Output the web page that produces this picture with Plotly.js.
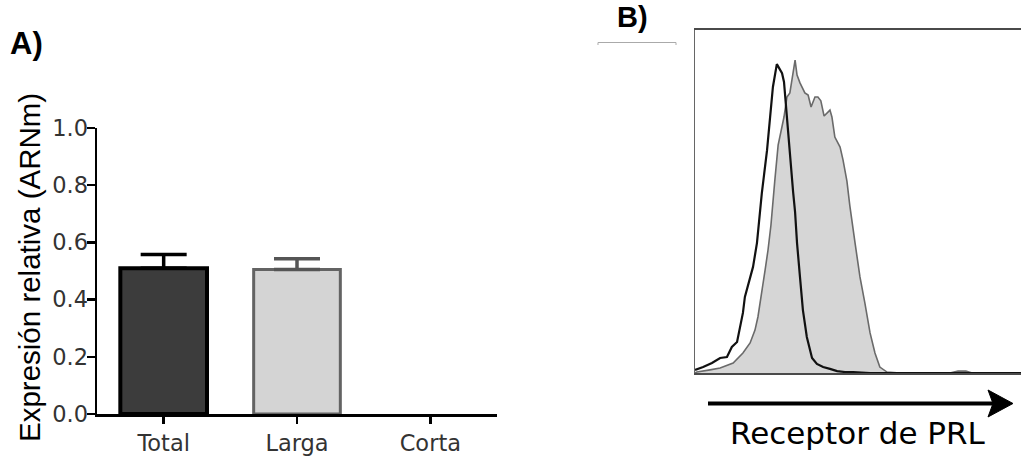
<!DOCTYPE html>
<html><head><meta charset="utf-8">
<script src="https://cdn.plot.ly/plotly-3.0.1.min.js"></script>
<style>html,body{margin:0;padding:0;background:#fff;}#chart{width:1021px;height:457px;}</style>
</head><body><div id="chart"></div>
<script>
// ---------- Panel A data ----------
const categories = ['Total', 'Larga', 'Corta'];
const expression = [0.51, 0.505, 0];
const errorUp = [0.048, 0.038, 0];
const yTickVals = [0, 0.2, 0.4, 0.6, 0.8, 1.0];
const yTickText = ['0.0', '0.2', '0.4', '0.6', '0.8', '1.0'];

// ---------- Panel B data (histogram, channel vs relative count) ----------
const ctrlChannel = [0,25,52,77,98,113,129,138,147,153,169,178,190,199,205,221,230,239,251,267,273,282,291,301,307,313,322,331,343,359,374,393,414,436,460,485,537,629,1000];
const ctrlCount = [1.0,1.9,3.2,4.8,5.1,8.3,9.9,14.7,19.2,24.3,30.4,33.9,41.5,51.1,57.5,71.2,81.8,91.4,98.7,95.8,93.0,81.2,69.3,57.8,51.4,41.5,30.7,20.1,11.5,4.8,2.9,1.9,1.3,0.6,0.3,0.3,0,0,0];
const prlChannel = [0,6,46,77,117,147,169,184,193,205,215,224,233,245,255,273,282,291,307,313,322,337,347,356,368,377,386,396,405,414,420,429,445,454,466,475,491,506,521,537,552,567,589,629,782,807,831,850,1000];
const prlCount = [0,0.3,1.0,1.6,3.2,6.4,9.6,13.7,17.9,25.6,32.9,39.3,47.3,61.7,72.8,81.8,88.2,89.5,100,95.2,92.7,89.5,88.8,85.0,88.2,88.2,87.0,82.1,83.1,84.0,81.8,75.4,72.2,68.1,61.3,53.4,41.5,30.7,22.4,12.8,6.4,1.9,0.3,0,0,0.6,0.6,0,0];

// ---------- styles ----------
const barFill = ['#3c3c3c', '#d4d4d4', '#ffffff'];
const barEdge = ['#000000', '#636363', '#000000'];
const barEdgeW = [4, 3, 0];
const errColor = ['#000000', '#555555', '#000000'];

const W = 1021, H = 457;
const px = x => x / W;
const py = y => 1 - y / H;
const P = (x, y) => px(x).toFixed(5) + ',' + py(y).toFixed(5);

const traces = categories.map((c, i) => ({
  type: 'bar', x: [c], y: [expression[i]], width: 0.65,
  xaxis: 'x', yaxis: 'y', showlegend: false, hoverinfo: 'x+y',
  marker: {color: barFill[i], line: {color: barEdge[i], width: barEdgeW[i]}},
  error_y: {type: 'data', symmetric: false, array: [errorUp[i]], arrayminus: [0],
            visible: errorUp[i] > 0, color: errColor[i], thickness: 3.5, width: 23}
}));

traces.push({
  type: 'scatter', mode: 'lines', x: prlChannel, y: prlCount,
  xaxis: 'x2', yaxis: 'y2', fill: 'tozeroy', fillcolor: '#d6d6d6',
  line: {color: '#6a6a6a', width: 1.6}, showlegend: false, name: 'PRL-R'
});
traces.push({
  type: 'scatter', mode: 'lines', x: ctrlChannel, y: ctrlCount,
  xaxis: 'x2', yaxis: 'y2',
  line: {color: '#111111', width: 2.2}, showlegend: false, name: 'Control'
});

const tickFont = {family: 'DejaVu Sans, sans-serif', size: 22.5, color: '#333'};

const layout = {
  width: W, height: H,
  margin: {l: 0, r: 0, t: 0, b: 0},
  paper_bgcolor: '#fff', plot_bgcolor: 'rgba(0,0,0,0)',
  barmode: 'overlay',
  showlegend: false,
  xaxis: {
    domain: [px(97), px(497)], range: [-0.5, 2.5], type: 'category',
    categoryorder: 'array', categoryarray: categories,
    showline: true, linecolor: '#000', linewidth: 2.5,
    ticks: 'outside', ticklen: 7, tickwidth: 2.5, tickcolor: '#000',
    tickfont: tickFont, showgrid: false, zeroline: false, anchor: 'y', fixedrange: true
  },
  yaxis: {
    domain: [py(414), py(128)], range: [0, 1],
    tickmode: 'array', tickvals: yTickVals, ticktext: yTickText,
    showline: true, linecolor: '#000', linewidth: 2.5,
    ticks: 'outside', ticklen: 8, tickwidth: 2.5, tickcolor: '#000', ticklabelstandoff: -6,
    tickfont: tickFont, showgrid: false, zeroline: false, anchor: 'x', fixedrange: true
  },
  xaxis2: {
    domain: [px(695), 1], range: [0, 1000],
    showline: true, mirror: true, linecolor: '#4a4a4a', linewidth: 2,
    showticklabels: false, ticks: '', showgrid: false, zeroline: false, anchor: 'y2'
  },
  yaxis2: {
    domain: [py(373), py(30)], range: [0, 109.6],
    showline: true, linecolor: '#666', linewidth: 1.5,
    showticklabels: false, ticks: '', showgrid: false, zeroline: false, anchor: 'x2'
  },
  annotations: [
    {text: '<b>A)</b>', x: px(26), y: py(44), xref: 'paper', yref: 'paper', showarrow: false,
     xanchor: 'center', yanchor: 'middle', font: {family: 'Liberation Sans, Arial, sans-serif', size: 31, color: '#000'}},
    {text: '<b>B)</b>', x: px(632), y: py(17), xref: 'paper', yref: 'paper', showarrow: false,
     xanchor: 'center', yanchor: 'middle', font: {family: 'Liberation Sans, Arial, sans-serif', size: 29, color: '#000'}},
    {text: 'Expresión relativa (ARNm)', x: px(29), y: py(268), xref: 'paper', yref: 'paper', showarrow: false,
     textangle: -90, xanchor: 'center', yanchor: 'middle',
     font: {family: 'Liberation Sans, Arial, sans-serif', size: 29.5, color: '#000'}},
    {text: 'Receptor de PRL', x: px(857.5), y: py(433), xref: 'paper', yref: 'paper', showarrow: false,
     xanchor: 'center', yanchor: 'middle', font: {family: 'DejaVu Sans, sans-serif', size: 31, color: '#000'}}
  ],
  shapes: [
    {type: 'line', xref: 'paper', yref: 'paper', x0: px(708), x1: px(993), y0: py(403.5), y1: py(403.5),
     line: {color: '#000', width: 4}},
    {type: 'path', xref: 'paper', yref: 'paper',
     path: 'M' + P(988, 390) + 'L' + P(1013, 403.5) + 'L' + P(988, 417) + 'L' + P(993, 403.5) + 'Z',
     fillcolor: '#000', line: {color: '#000', width: 1}},
    {type: 'path', xref: 'paper', yref: 'paper',
     path: 'M' + P(598, 45) + 'L' + P(598, 42.5) + 'L' + P(676, 42.5) + 'L' + P(676, 45),
     line: {color: '#aaaaaa', width: 1}}
  ]
};

Plotly.newPlot('chart', traces, layout, {staticPlot: true, displayModeBar: false});
</script>
</body></html>
